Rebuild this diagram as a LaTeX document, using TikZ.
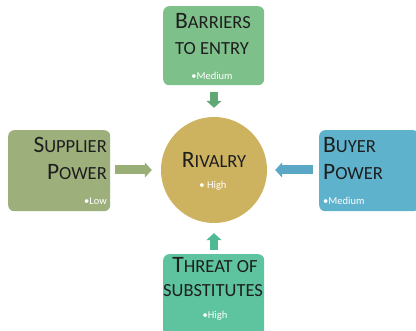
\documentclass[tikz,border=0pt]{standalone}
\usepackage{fontspec}
\setmainfont{Carlito}
\usetikzlibrary{arrows.meta}
\definecolor{cTop}{HTML}{7EC08A}
\definecolor{cTopA}{HTML}{62A874}
\definecolor{cSup}{HTML}{9DB07C}
\definecolor{cSupA}{HTML}{9AAE78}
\definecolor{cBuy}{HTML}{5EB2CC}
\definecolor{cBuyA}{HTML}{5AA8C6}
\definecolor{cBot}{HTML}{5EC4A0}
\definecolor{cBotA}{HTML}{4FB994}
\definecolor{cRiv}{HTML}{CDB360}
\definecolor{cTxt}{HTML}{1E1E1E}
\newcommand\Lc[1]{{\fontsize{23.5}{24}\selectfont #1}}
\newcommand\Sc[1]{{\fontsize{18.5}{19}\selectfont #1}}
\tikzset{
  boxst/.style={rounded corners=6pt, draw=none},
  ttl/.style={text=cTxt, inner sep=0pt},
  sub/.style={text=white, inner sep=0pt, font=\fontsize{10.5}{11}\selectfont},
  blk/.style={line width=#1, -{Triangle[width=15pt,length=7pt]}},
}
\begin{document}
\begin{tikzpicture}[x=1pt,y=-1pt]
\useasboundingbox (0,0) rectangle (416,331);
\clip (0,0) rectangle (416,331);
\fill[white] (0,0) rectangle (416,331);
% boxes
\node[boxst, fill=cTop, minimum width=101pt, minimum height=79pt, anchor=north west] (top) at (163,6) {};
\node[boxst, fill=cSup, minimum width=102pt, minimum height=81pt, anchor=north west] (sup) at (8,130) {};
\node[boxst, fill=cBuy, minimum width=100pt, minimum height=81pt, anchor=north west] (buy) at (319,130) {};
\node[boxst, fill=cBot, minimum width=101pt, minimum height=82pt, anchor=north west] (bot) at (163,254) {};
\node[circle, fill=cRiv, minimum size=106pt, inner sep=0pt] (riv) at (214,170) {};
% arrows
\draw[cTopA, blk=8pt, shorten <=7pt, shorten >=9pt] (top.south -| riv) -- (riv.north);
\draw[cSupA, blk=9pt, shorten <=5pt, shorten >=9pt] (sup.east |- riv) -- (riv.west);
\draw[cBuyA, blk=9pt, shorten <=6pt, shorten >=8pt] (buy.west |- riv) -- (riv.east);
\draw[cBotA, blk=8pt, shorten <=4pt, shorten >=10pt] (bot.north -| riv) -- (riv.south);
% texts
\node[ttl, anchor=base] (t1) at (213,29) {\Lc{B}\Sc{ARRIERS}};
\node[ttl, anchor=base] (t2) at (212,55) {\Sc{TO ENTRY}};
\node[sub, anchor=base] (t3) at (212,80) {•Medium};
\node[ttl, anchor=base east] (s1) at (107,153) {\Lc{S}\Sc{UPPLIER}};
\node[ttl, anchor=base east] (s2) at (107,180) {\Lc{P}\Sc{OWER}};
\node[sub, anchor=base east] (s3) at (107,205) {•Low};
\node[ttl, anchor=base west] (b1) at (323,153) {\Lc{B}\Sc{UYER}};
\node[ttl, anchor=base west] (b2) at (323,180) {\Lc{P}\Sc{OWER}};
\node[sub, anchor=base west] (b3) at (323,205) {•Medium};
\node[ttl, anchor=base] (r1) at (214,168) {\Lc{R}\Sc{IVALRY}};
\node[sub, anchor=base] (r2) at (213,189) {• High};
\node[ttl, anchor=base] (h1) at (215,273) {\Lc{T}\Sc{HREAT OF}};
\node[ttl, anchor=base] (h2) at (213,297) {\Sc{SUBSTITUTES}};
\node[sub, anchor=base] (h3) at (215,319) {•High};
\end{tikzpicture}
\end{document}
